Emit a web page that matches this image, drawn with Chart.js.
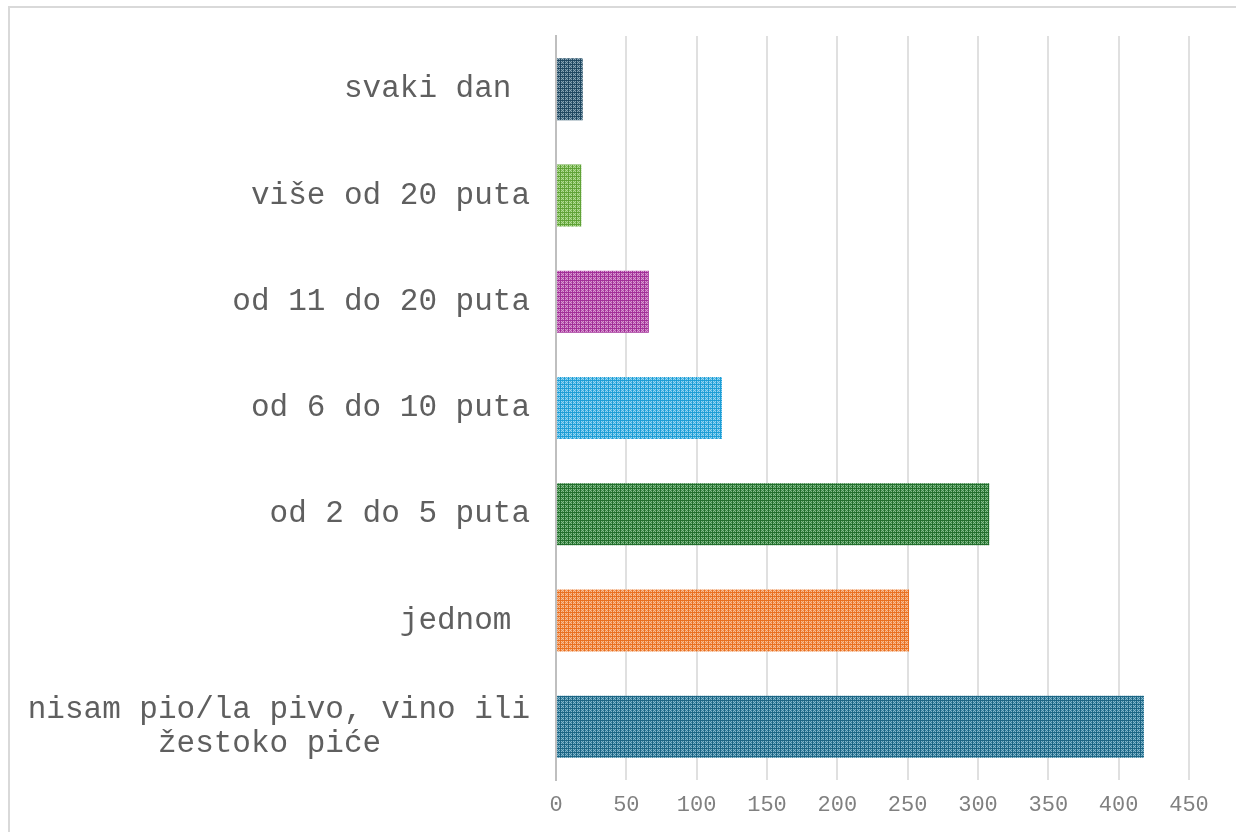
<!DOCTYPE html>
<html>
<head>
<meta charset="utf-8">
<script src="https://cdn.jsdelivr.net/npm/chart.js@4"></script>
<style>
    html, body { margin: 0; padding: 0; background: #ffffff; overflow: hidden; }
    #frame {
        position: absolute; left: 8px; top: 6px;
        width: 1300px; height: 900px;
        border: 2px solid #d9d9d9; box-sizing: border-box;
    }
    #wrap { position: absolute; left: 0; top: 0; width: 1236px; height: 832px; }
</style>
</head>
<body>
<div id="frame"></div>
<div id="wrap"><canvas id="chart"></canvas></div>
<script>
// Categories, top to bottom
const categories = [
    'svaki dan ',
    'više od 20 puta',
    'od 11 do 20 puta',
    'od 6 do 10 puta',
    'od 2 do 5 puta',
    'jednom ',
    ['nisam pio/la pivo, vino ili', 'žestoko piće        ']
];

// Number of answers per category
const values = [19, 18, 66, 118, 308, 251, 418];

// Value axis ticks
const xTicks = [0, 50, 100, 150, 200, 250, 300, 350, 400, 450];

// Bar colours: [dark line, base, light check]
const palette = [
    ['#1f4760', '#3c6379', '#8aa5b5'],
    ['#5fa236', '#7dbb55', '#b3da99'],
    ['#a22f98', '#b655ac', '#d99bd2'],
    ['#1c9ed6', '#45b3e3', '#9ad5f0'],
    ['#226e2c', '#3e8a48', '#86bb8d'],
    ['#e96f1f', '#f08d4c', '#f7bf97'],
    ['#1b6584', '#36809e', '#86b6ca']
];

// Small plaid tile like the Excel pattern fill
function makePattern(dark, base, light) {
    const size = 8;
    const tile = document.createElement('canvas');
    tile.width = size;
    tile.height = size;
    const t = tile.getContext('2d');
    for (let y = 0; y < size; y++) {
        for (let x = 0; x < size; x++) {
            let c = base;
            if (x % 4 === 0 || y % 4 === 0) c = dark;
            else if ((x + y) % 2 === 0) c = light;
            t.fillStyle = c;
            t.fillRect(x, y, 1, 1);
        }
    }
    return t.createPattern(tile, 'repeat');
}

const ctx = document.getElementById('chart').getContext('2d');
const fills = palette.map(p => makePattern(p[0], p[1], p[2]));

// Drop the extra room Chart.js keeps for half labels at the axis ends
function noEndPadding(scale) {
    scale.paddingTop = 0;
    scale.paddingBottom = 0;
    scale.paddingLeft = 0;
    scale.paddingRight = 0;
}

new Chart(ctx, {
    type: 'bar',
    data: {
        labels: categories,
        datasets: [{
            data: values,
            backgroundColor: fills,
            borderWidth: 0,
            barPercentage: 0.583,
            categoryPercentage: 1
        }]
    },
    options: {
        indexAxis: 'y',
        responsive: true,
        maintainAspectRatio: false,
        animation: false,
        layout: {
            padding: { top: 36, right: 47, bottom: 0, left: 0 }
        },
        plugins: {
            legend: { display: false },
            tooltip: { enabled: false }
        },
        scales: {
            x: {
                min: 0,
                max: 450,
                afterBuildTicks: scale => {
                    scale.ticks = xTicks.map(v => ({ value: v }));
                },
                afterFit: scale => {
                    scale.height = 52;
                    noEndPadding(scale);
                },
                grid: {
                    color: '#e0e0e0',
                    lineWidth: 2,
                    drawTicks: false
                },
                border: { display: false },
                ticks: {
                    color: '#808080',
                    padding: 12,
                    font: {
                        family: "'Liberation Mono', 'Courier New', monospace",
                        size: 22
                    }
                }
            },
            y: {
                afterFit: scale => {
                    scale.width = 556;
                    noEndPadding(scale);
                },
                grid: { display: false, drawTicks: false },
                border: { display: true, color: '#bfbfbf', width: 2 },
                ticks: {
                    color: '#5f5f5f',
                    padding: 26,
                    font: {
                        family: "'Liberation Mono', 'Courier New', monospace",
                        size: 31,
                        lineHeight: 1.1
                    }
                }
            }
        }
    }
});
</script>
</body>
</html>
